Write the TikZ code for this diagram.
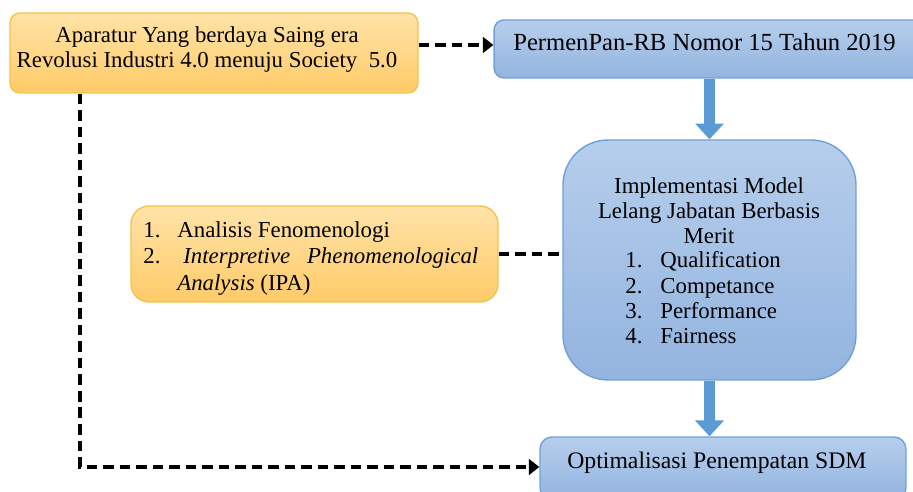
\documentclass[tikz,border=0pt]{standalone}
\usepackage{fontspec}
\setmainfont{Liberation Serif}
\usetikzlibrary{arrows.meta}

\definecolor{orangetop}{HTML}{FFE3A8}
\definecolor{orangebot}{HTML}{FFCB68}
\definecolor{orangeline}{HTML}{F5C24A}
\definecolor{bluetop}{HTML}{B6CEEC}
\definecolor{bluebot}{HTML}{93B4DF}
\definecolor{blueline}{HTML}{6FA0D8}
\definecolor{arrowblue}{HTML}{5B9BD5}

\begin{document}
\begin{tikzpicture}[x=0.02cm, y=-0.02cm,
  txt/.style={inner sep=0pt, anchor=mid west, font=\fontsize{13}{14.2}\selectfont},
  orangebox/.style={draw=orangeline, line width=0.8pt, top color=orangetop, bottom color=orangebot, inner sep=0pt},
  bluebox/.style={draw=blueline, line width=0.8pt, top color=bluetop, bottom color=bluebot, inner sep=0pt},
  flowarrow/.style={line width=6.8pt, draw=arrowblue, -{Triangle[width=15.9pt,length=9pt]}},
  dasharrow/.style={line width=2.7pt, dash pattern=on 6pt off 3.4pt}
]
  \useasboundingbox (0,0) rectangle (913,492);

  \node[orangebox, rounded corners=0.2cm, minimum width=8.16cm, minimum height=1.6cm] (A) at (214,53) {};
  \node[bluebox, rounded corners=0.2cm, minimum width=8.62cm, minimum height=1.16cm] (B) at (709.5,49) {};
  \node[bluebox, rounded corners=0.9cm, minimum width=5.86cm, minimum height=4.8cm] (C) at (709.5,260) {};
  \node[orangebox, rounded corners=0.36cm, minimum width=7.34cm, minimum height=1.92cm] (D) at (314.5,254) {};
  \node[bluebox, rounded corners=0.24cm, minimum width=7.32cm, minimum height=1.26cm] (E) at (723,468.5) {};
  \coordinate (turn) at (80,467);

  \node[txt, anchor=center, align=center] (aText) at (207,50)
    {Aparatur Yang berdaya Saing era\\Revolusi Industri 4.0 menuju Society\ \ 5.0};
  \node[txt, font=\fontsize{14}{16}\selectfont] (bText) at (513,46) {PermenPan-RB Nomor 15 Tahun 2019};

  \node[txt, anchor=center, align=center] (cTitle) at (709,211)
    {Implementasi Model\\Lelang Jabatan Berbasis\\Merit};
  \foreach \lbl [count=\i] in {Qualification,Competance,Performance,Fairness} {
    \node[txt] (num\i) at (625,{238.5+25.3*\i}) {\i.};
    \node[txt] (lbl\i) at (660,{238.5+25.3*\i}) {\lbl};
  }

  \node[txt] (dNum1) at (143,233) {1.};
  \node[txt] (dItem1) at (177,233) {Analisis Fenomenologi};
  \node[txt] (dNum2) at (143,259) {2.};
  \node[txt] (dItem2) at (183,259) {\makebox[5.9cm][s]{\textit{Interpretive} \textit{Phenomenological}}};
  \node[txt] (dItem3) at (177,286) {\textit{Analysis} (IPA)};

  \node[txt, font=\fontsize{13.5}{15}\selectfont] (eText) at (567,464) {Optimalisasi Penempatan SDM};

  \draw[flowarrow] (B.south) -- (C.north);
  \draw[flowarrow] (C.south) -- (C.south |- E.north);

  \draw[dasharrow, -{Triangle[width=9pt,length=6pt]}] (A.east |- 0,45) -- (B.west |- 0,45);
  \draw[dasharrow] (D.east) -- (D.east -| C.west);
  \draw[dasharrow, -{Triangle[width=9pt,length=6pt]}] (A.south -| turn) |- (E.west |- turn);
\end{tikzpicture}
\end{document}
